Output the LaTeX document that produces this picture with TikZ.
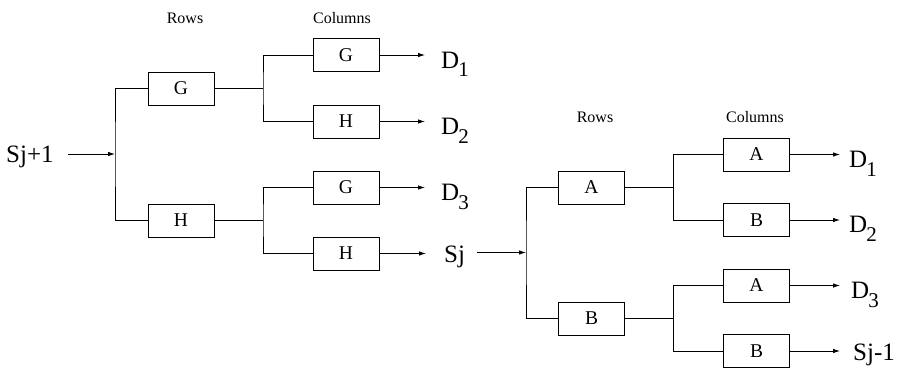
\documentclass[tikz,border=0pt]{standalone}
\usepackage{fontspec}
\setmainfont{Liberation Serif}
\usetikzlibrary{arrows.meta}
\newcommand{\Dsub}[1]{D\kern-1pt\raisebox{-9pt}{\fontsize{21}{21}\selectfont #1}}
\begin{document}
\begin{tikzpicture}[x=1pt,y=-1pt,
  blk/.style={draw,line width=0.8pt,minimum width=66pt,minimum height=33pt,inner sep=0pt,font=\fontsize{19.5}{19.5}\selectfont},
  hdr/.style={font=\fontsize{16}{16}\selectfont,inner sep=0pt},
  lbl/.style={font=\fontsize{25}{25}\selectfont,inner sep=0pt,anchor=base west},
  ln/.style={line width=0.8pt},
  arr/.style={line width=0.8pt,-{Latex[length=7pt,width=4.5pt]}}]
\useasboundingbox (0,0) rectangle (904,369);

% ---------- left tree ----------
\node[hdr] (h1) at (185,18) {Rows};
\node[hdr] (h2) at (342,18) {Columns};
\node[blk] (rG) at (181,88.5) {G};
\node[blk] (rH) at (181,220.5) {H};
\node[blk] (c1) at (346,55) {G};
\node[blk] (c2) at (346,121.5) {H};
\node[blk] (c3) at (346,187.5) {G};
\node[blk] (c4) at (346,253.5) {H};
\node[lbl] (sin) at (6,162) {Sj+1};
\node[lbl] (d1) at (441,68) {\Dsub{1}};
\node[lbl] (d2) at (441,134.5) {\Dsub{2}};
\node[lbl] (d3) at (441,200.5) {\Dsub{3}};
\node[lbl] (sj) at (444,262.5) {Sj};

\coordinate (jL) at (115,154);
\coordinate (j1) at (263,88.5);
\coordinate (j2) at (263,220.5);

\draw[arr] ([xshift=14pt]sin.east |- jL) -- (jL);
\draw[ln] (rG.west) -| (jL) |- (rH.west);
\draw[ln] (rG.east) -- (j1);
\draw[ln] (c1.west) -| (j1) |- (c2.west);
\draw[ln] (rH.east) -- (j2);
\draw[ln] (c3.west) -| (j2) |- (c4.west);
\draw[arr,shorten >=16pt] (c1.east) -- (c1.east -| d1.west);
\draw[arr,shorten >=16pt] (c2.east) -- (c2.east -| d2.west);
\draw[arr,shorten >=16pt] (c3.east) -- (c3.east -| d3.west);
\draw[arr,shorten >=18pt] (c4.east) -- (c4.east -| sj.west);

% ---------- right tree ----------
\node[hdr] (h3) at (595,117) {Rows};
\node[hdr] (h4) at (755,117) {Columns};
\node[blk] (rA) at (591.5,187.5) {A};
\node[blk] (rB) at (591.5,318.5) {B};
\node[blk] (e1) at (756.5,154.5) {A};
\node[blk] (e2) at (756.5,220) {B};
\node[blk] (e3) at (756.5,285.5) {A};
\node[blk] (e4) at (756.5,351) {B};
\node[lbl] (f1) at (849,167) {\Dsub{1}};
\node[lbl] (f2) at (849,232.5) {\Dsub{2}};
\node[lbl] (f3) at (851,298) {\Dsub{3}};
\node[lbl] (sout) at (853,360) {Sj-1};

\coordinate (jR) at (526,252.5);
\coordinate (k1) at (673,187.5);
\coordinate (k2) at (673,318.5);

\draw[arr] ([xshift=12pt]sj.east |- jR) -- (jR);
\draw[ln] (rA.west) -| (jR) |- (rB.west);
\draw[ln] (rA.east) -- (k1);
\draw[ln] (e1.west) -| (k1) |- (e2.west);
\draw[ln] (rB.east) -- (k2);
\draw[ln] (e3.west) -| (k2) |- (e4.west);
\draw[arr,shorten >=9pt] (e1.east) -- (e1.east -| f1.west);
\draw[arr,shorten >=9pt] (e2.east) -- (e2.east -| f2.west);
\draw[arr,shorten >=11pt] (e3.east) -- (e3.east -| f3.west);
\draw[arr,shorten >=13pt] (e4.east) -- (e4.east -| sout.west);
\end{tikzpicture}
\end{document}
